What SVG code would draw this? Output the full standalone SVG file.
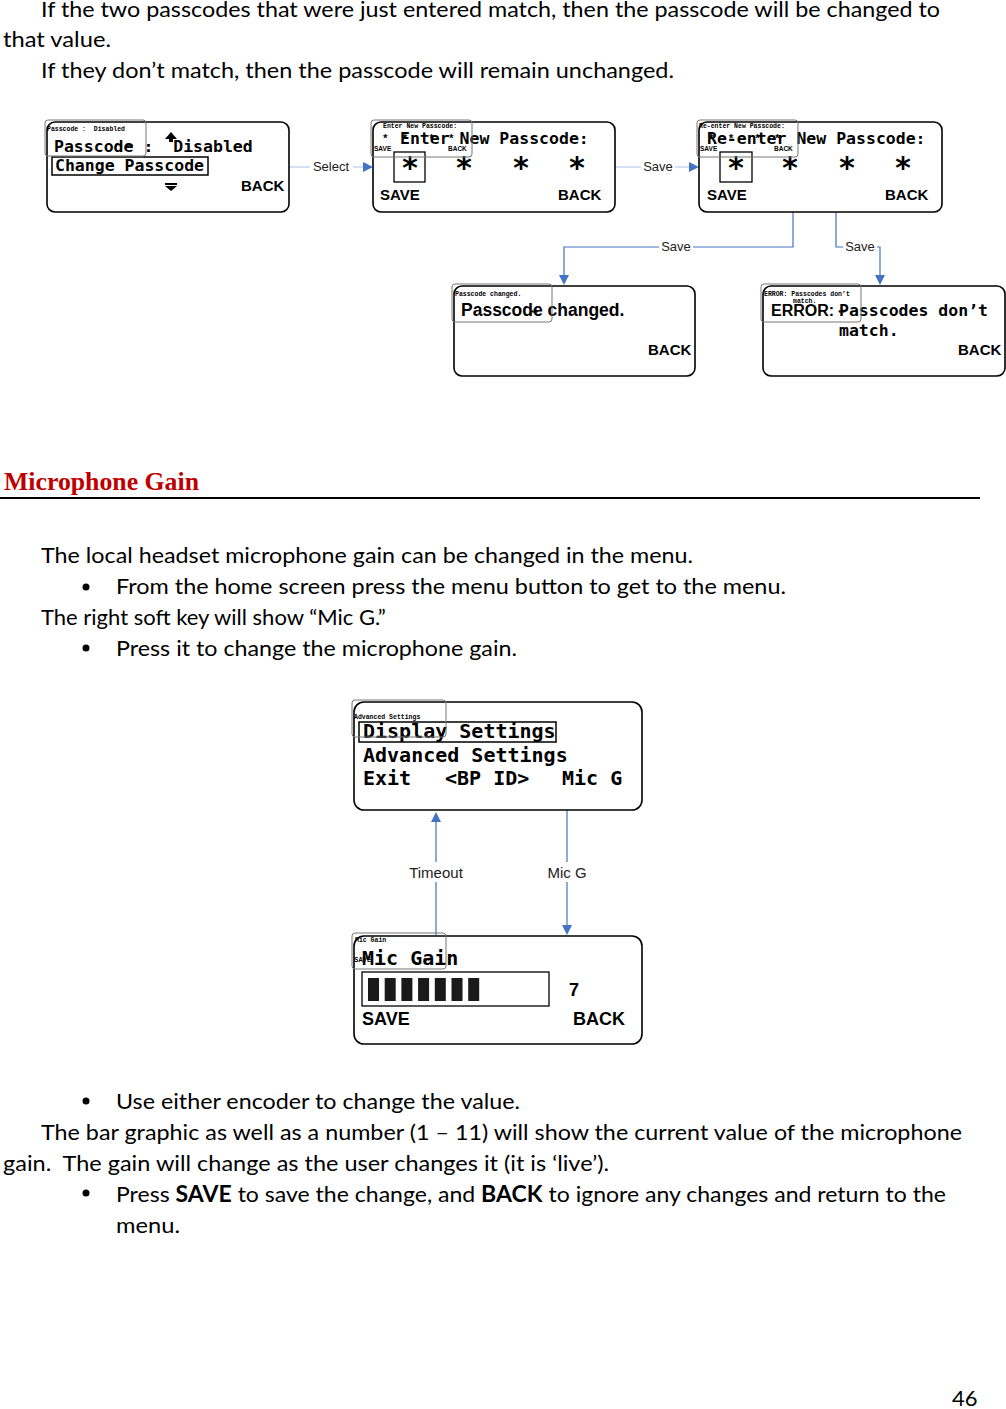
<svg xmlns="http://www.w3.org/2000/svg" width="1006" height="1409" viewBox="0 0 1006 1409">
<style>
.body{font-family:Lato,"Open Sans","Liberation Sans",sans-serif;font-size:22px;fill:#000}
.scr{fill:#fff;stroke:#000;stroke-width:1.6}
.thumb{fill:none;stroke:#777;stroke-width:1}
.tiny{font-family:"Liberation Mono",monospace;font-size:6.5px;font-weight:bold;fill:#000}
.tinys{font-family:"Liberation Sans",sans-serif;font-size:6.5px;font-weight:bold;fill:#000}
.mono{font-family:"DejaVu Sans Mono","Liberation Mono",monospace;font-weight:bold;font-size:16.5px;fill:#000}
.monoL{font-family:"DejaVu Sans Mono","Liberation Mono",monospace;font-weight:bold;font-size:20px;fill:#000}
.sb{font-family:"Liberation Sans",Arial,sans-serif;font-weight:bold;font-size:15px;fill:#000}
.ast{font-family:"DejaVu Sans Mono","Liberation Mono",monospace;font-weight:bold;font-size:30px;fill:#000}
.lbl{font-family:"Liberation Sans",Arial,sans-serif;font-size:13px;fill:#222}
.lblL{font-family:"Liberation Sans",Arial,sans-serif;font-size:15px;fill:#222}
.conn{fill:none;stroke:#4472c4;stroke-width:1.2}
.connL{fill:none;stroke:#a9c4e8;stroke-width:1.2}
.ah{fill:#4472c4}
.ov{font-family:"DejaVu Sans",sans-serif;font-size:9px;fill:#000}
</style>

<!-- body text -->
<g id="text-top">
<text class="body" x="41" y="17" textLength="899" lengthAdjust="spacingAndGlyphs">If the two passcodes that were just entered match, then the passcode will be changed to</text>
<text class="body" x="3" y="47" textLength="108" lengthAdjust="spacingAndGlyphs">that value.</text>
<text class="body" x="41" y="78" textLength="633" lengthAdjust="spacingAndGlyphs">If they don’t match, then the passcode will remain unchanged.</text>
</g>

<g id="heading">
<text x="4" y="490" font-family="'Liberation Serif',serif" font-weight="bold" font-size="25" fill="#c00000" textLength="195" lengthAdjust="spacingAndGlyphs">Microphone Gain</text>
<rect x="0" y="497" width="980" height="2" fill="#000"/>
</g>

<g id="text-mid">
<text class="body" x="41" y="563" textLength="652" lengthAdjust="spacingAndGlyphs">The local headset microphone gain can be changed in the menu.</text>
<circle cx="86" cy="587" r="3.5" fill="#000"/>
<text class="body" x="116" y="594" textLength="670" lengthAdjust="spacingAndGlyphs">From the home screen press the menu button to get to the menu.</text>
<text class="body" x="41" y="625">The right soft key will show “Mic G.”</text>
<circle cx="86" cy="648" r="3.5" fill="#000"/>
<text class="body" x="116" y="656" textLength="401" lengthAdjust="spacingAndGlyphs">Press it to change the microphone gain.</text>
</g>

<g id="text-bottom">
<circle cx="86" cy="1101" r="3.5" fill="#000"/>
<text class="body" x="116" y="1109" textLength="404" lengthAdjust="spacingAndGlyphs">Use either encoder to change the value.</text>
<text class="body" x="41" y="1140" textLength="921" lengthAdjust="spacingAndGlyphs">The bar graphic as well as a number (1 – 11) will show the current value of the microphone</text>
<text class="body" x="3" y="1171" textLength="606" lengthAdjust="spacingAndGlyphs" xml:space="preserve">gain.  The gain will change as the user changes it (it is ‘live’).</text>
<circle cx="86" cy="1193" r="3.5" fill="#000"/>
<text class="body" x="116" y="1202" textLength="830" lengthAdjust="spacingAndGlyphs">Press <tspan font-weight="bold">SAVE</tspan> to save the change, and <tspan font-weight="bold">BACK</tspan> to ignore any changes and return to the</text>
<text class="body" x="116" y="1233" textLength="64" lengthAdjust="spacingAndGlyphs">menu.</text>
<text class="body" x="952" y="1406">46</text>
</g>

<!-- connectors -->
<g id="connectors">
<line class="connL" x1="289" y1="167" x2="364" y2="167"/>
<polygon class="ah" points="363,162 373,167 363,172"/>
<line class="connL" x1="615" y1="167" x2="690" y2="167"/>
<polygon class="ah" points="689,162 699,167 689,172"/>
<polyline class="conn" points="793,212 793,247 564,247 564,276"/>
<polygon class="ah" points="559,275 569,275 564,285"/>
<polyline class="conn" points="836,212 836,247 880,247 880,276"/>
<polygon class="ah" points="875,275 885,275 880,285"/>
<line class="conn" x1="436" y1="935" x2="436" y2="821"/>
<polygon class="ah" points="431,822 441,822 436,812"/>
<line class="conn" x1="567" y1="810" x2="567" y2="926"/>
<polygon class="ah" points="562,925 572,925 567,935"/>
<rect x="310" y="159" width="43" height="15" fill="#fff"/>
<text class="lbl" x="331" y="171" text-anchor="middle">Select</text>
<rect x="641" y="159" width="34" height="15" fill="#fff"/>
<text class="lbl" x="658" y="171" text-anchor="middle">Save</text>
<rect x="659" y="240" width="34" height="14" fill="#fff"/>
<text class="lbl" x="676" y="251" text-anchor="middle">Save</text>
<rect x="843" y="240" width="34" height="14" fill="#fff"/>
<text class="lbl" x="860" y="251" text-anchor="middle">Save</text>
<rect x="404" y="862" width="64" height="20" fill="#fff"/>
<text class="lblL" x="436" y="878" text-anchor="middle">Timeout</text>
<rect x="543" y="862" width="48" height="20" fill="#fff"/>
<text class="lblL" x="567" y="878" text-anchor="middle">Mic G</text>
</g>

<!-- screen 1 -->
<g id="screen-passcode">
<rect class="scr" x="47" y="122" width="242" height="90" rx="8"/>
<text class="mono" x="54" y="152" xml:space="preserve">Passcode :  Disabled</text>
<rect x="52" y="157" width="156" height="18" fill="none" stroke="#000" stroke-width="1.5"/>
<text class="mono" x="55" y="171">Change Passcode</text>
<text class="sb" x="241" y="191">BACK</text>
<polygon points="171,132 165,139 177,139" fill="#000"/>
<rect x="169" y="138" width="4" height="4" fill="#000"/>
<rect x="165" y="183" width="12" height="2" fill="#000"/>
<polygon points="165,186 177,186 171,191" fill="#000"/>
<text class="ov" x="126" y="148">↔</text>
<rect class="thumb" x="45" y="120" width="101" height="36" rx="3"/>
<text class="tiny" x="47" y="131" xml:space="preserve">Passcode :  Disabled</text>
</g>

<!-- screen 2 -->
<g id="screen-enter">
<rect class="scr" x="373" y="122" width="242" height="90" rx="8"/>
<text class="mono" x="400" y="144">Enter New Passcode:</text>
<text class="ast" x="401" y="178">*</text>
<text class="ast" x="455" y="178">*</text>
<text class="ast" x="512" y="178">*</text>
<text class="ast" x="568" y="178">*</text>
<rect x="394" y="152" width="31" height="30" fill="none" stroke="#000" stroke-width="1.3"/>
<text class="sb" x="380" y="200">SAVE</text>
<text class="sb" x="558" y="200">BACK</text>
<rect class="thumb" x="371" y="120" width="101" height="37" rx="3"/>
<text class="tiny" x="383" y="128">Enter New Passcode:</text>
<text class="tiny" style="font-size:11px" x="382" y="142" xml:space="preserve">*  *   *  *</text>
<text class="tinys" x="374" y="151">SAVE</text>
<text class="tinys" x="448" y="151">BACK</text>
</g>

<!-- screen 3 -->
<g id="screen-reenter">
<rect class="scr" x="699" y="122" width="243" height="90" rx="8"/>
<text class="mono" x="707" y="144">Re-enter New Passcode:</text>
<text class="ast" x="727" y="178">*</text>
<text class="ast" x="781" y="178">*</text>
<text class="ast" x="838" y="178">*</text>
<text class="ast" x="894" y="178">*</text>
<rect x="720" y="152" width="32" height="30" fill="none" stroke="#000" stroke-width="1.3"/>
<text class="sb" x="707" y="200">SAVE</text>
<text class="sb" x="885" y="200">BACK</text>
<rect class="thumb" x="697" y="120" width="101" height="37" rx="3"/>
<text class="tiny" x="699" y="128">Re-enter New Passcode:</text>
<text class="tiny" style="font-size:11px" x="708" y="142" xml:space="preserve">*  *   *  *</text>
<text class="tinys" x="700" y="151">SAVE</text>
<text class="tinys" x="774" y="151">BACK</text>
</g>

<!-- screen 4 -->
<g id="screen-changed">
<rect class="scr" x="454" y="286" width="241" height="90" rx="8"/>
<text class="sb" style="font-size:17.5px" x="461" y="316">Passcode changed.</text>
<text class="sb" x="648" y="355">BACK</text>
<text class="ov" x="531" y="314">↔</text>
<rect class="thumb" x="452" y="284" width="100" height="38" rx="3"/>
<text class="tiny" x="455" y="296">Passcode changed.</text>
</g>

<!-- screen 5 -->
<g id="screen-error">
<rect class="scr" x="763" y="286" width="242" height="90" rx="8"/>
<text class="sb" style="font-size:16px" x="771" y="316">ERROR:</text>
<text class="mono" x="839" y="316">Passcodes don’t</text>
<text class="mono" x="839" y="336">match.</text>
<text class="sb" x="958" y="355">BACK</text>
<text class="ov" x="838" y="314">↔</text>
<rect class="thumb" x="761" y="284" width="100" height="38" rx="3"/>
<text class="tiny" x="764" y="296">ERROR: Passcodes don’t</text>
<text class="tiny" x="793" y="303">match.</text>
</g>

<!-- screen 6 -->
<g id="screen-menu">
<rect class="scr" x="354" y="702" width="288" height="108" rx="10"/>
<rect x="359" y="722" width="197" height="20" fill="none" stroke="#000" stroke-width="1.5"/>
<text class="monoL" x="363" y="738">Display Settings</text>
<text class="monoL" x="363" y="762">Advanced Settings</text>
<text class="monoL" x="363" y="785">Exit</text>
<text class="monoL" x="445" y="785">&lt;BP ID&gt;</text>
<text class="monoL" x="562" y="785">Mic G</text>
<rect class="thumb" x="352" y="700" width="94" height="37" rx="3"/>
<text class="tiny" x="354" y="719">Advanced Settings</text>
</g>

<!-- screen 7 -->
<g id="screen-micgain">
<rect class="scr" x="354" y="936" width="288" height="108" rx="10"/>
<text class="monoL" x="362" y="965">Mic Gain</text>
<rect x="362" y="972" width="187" height="34" fill="none" stroke="#000" stroke-width="1.3"/>
<g fill="#1a1a1a">
<rect x="368" y="978" width="11" height="23"/>
<rect x="384.7" y="978" width="11" height="23"/>
<rect x="401.4" y="978" width="11" height="23"/>
<rect x="418.1" y="978" width="11" height="23"/>
<rect x="434.8" y="978" width="11" height="23"/>
<rect x="451.5" y="978" width="11" height="23"/>
<rect x="468.2" y="978" width="11" height="23"/>
</g>
<text class="sb" style="font-size:18px" x="569" y="996">7</text>
<text class="sb" style="font-size:18px" x="362" y="1025">SAVE</text>
<text class="sb" style="font-size:18px" x="573" y="1025">BACK</text>
<text class="ov" x="423" y="962">↔</text>
<rect class="thumb" x="352" y="933" width="94" height="36" rx="3"/>
<text class="tiny" x="355" y="942">Mic Gain</text>
<text class="tinys" x="354" y="962">SAVE</text>
</g>
</svg>
